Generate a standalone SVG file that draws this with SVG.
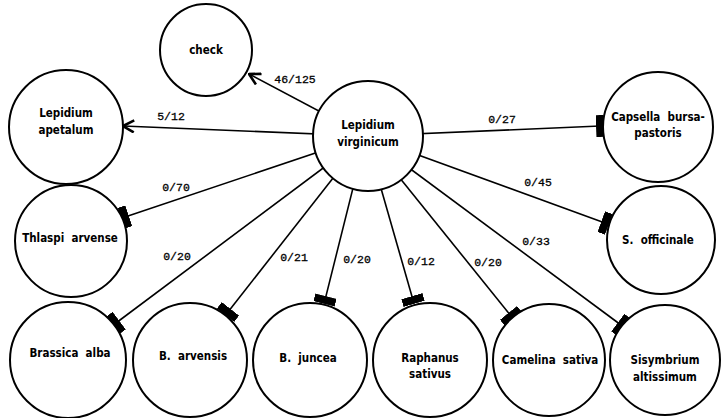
<svg xmlns="http://www.w3.org/2000/svg" width="721" height="418" viewBox="0 0 721 418">
<style>
.node circle{fill:#fff;stroke:#000;stroke-width:2}
.node text{font-family:"DejaVu Sans Condensed","DejaVu Sans",sans-serif;font-weight:bold;font-size:11.5px;fill:#000;text-anchor:middle;white-space:pre}
.edge line{stroke:#000;stroke-width:1.6}
.lbl{font-family:"Liberation Mono",monospace;font-size:11.5px;fill:#000;stroke:#000;stroke-width:0.3;text-anchor:middle}
</style>
<defs>
<marker id="arr" markerUnits="userSpaceOnUse" viewBox="0 0 14 14" refX="13" refY="7" markerWidth="14" markerHeight="14" orient="auto">
<path d="M2,1 L13,7 L2,13" fill="none" stroke="#000" stroke-width="2.6"/>
</marker>
<marker id="bar" markerUnits="userSpaceOnUse" viewBox="0 0 8 22" refX="4" refY="11" markerWidth="8" markerHeight="22" orient="auto">
<rect x="0" y="0" width="8" height="22" fill="#000"/>
</marker>
</defs>
<g id="connectors" class="edge">
<line x1="366" y1="136" x2="249" y2="74" marker-end="url(#arr)"/>
<line x1="366" y1="136" x2="123" y2="126" marker-end="url(#arr)"/>
<line x1="366" y1="136" x2="600" y2="126" marker-end="url(#bar)"/>
<line x1="366" y1="136" x2="125" y2="217" marker-end="url(#bar)"/>
<line x1="366" y1="136" x2="605" y2="223" marker-end="url(#bar)"/>
<line x1="366" y1="136" x2="116" y2="323" marker-end="url(#bar)"/>
<line x1="366" y1="136" x2="228" y2="312" marker-end="url(#bar)"/>
<line x1="366" y1="136" x2="325" y2="300" marker-end="url(#bar)"/>
<line x1="366" y1="136" x2="413" y2="300" marker-end="url(#bar)"/>
<line x1="366" y1="136" x2="511" y2="316" marker-end="url(#bar)"/>
<line x1="366" y1="136" x2="621" y2="325" marker-end="url(#bar)"/>
<text class="lbl" x="295" y="83">46/125</text>
<text class="lbl" x="171" y="120">5/12</text>
<text class="lbl" x="502" y="123">0/27</text>
<text class="lbl" x="176" y="191">0/70</text>
<text class="lbl" x="538" y="186">0/45</text>
<text class="lbl" x="177" y="260">0/20</text>
<text class="lbl" x="294" y="261">0/21</text>
<text class="lbl" x="357" y="263">0/20</text>
<text class="lbl" x="421" y="265">0/12</text>
<text class="lbl" x="488" y="266">0/20</text>
<text class="lbl" x="536" y="245">0/33</text>
</g>
<g id="lepidium-virginicum" class="node"><circle cx="368" cy="136" r="55"/><text x="368" y="129">Lepidium</text><text x="368" y="146">virginicum</text></g>
<g id="check" class="node"><circle cx="206" cy="50" r="46"/><text x="206" y="54">check</text></g>
<g id="lepidium-apetalum" class="node"><circle cx="66" cy="127" r="57"/><text x="66" y="117">Lepidium</text><text x="66" y="134">apetalum</text></g>
<g id="capsella" class="node"><circle cx="658" cy="127" r="55"/><text x="658" y="121">Capsella  bursa-</text><text x="658" y="137">pastoris</text></g>
<g id="thlaspi" class="node"><circle cx="71" cy="241" r="56"/><text x="70" y="242">Thlaspi  arvense</text></g>
<g id="s-officinale" class="node"><circle cx="661" cy="240" r="54"/><text x="658" y="244">S.  officinale</text></g>
<g id="brassica-alba" class="node"><circle cx="68" cy="360" r="58"/><text x="70" y="357">Brassica  alba</text></g>
<g id="b-arvensis" class="node"><circle cx="190" cy="360" r="57"/><text x="193" y="360">B.  arvensis</text></g>
<g id="b-juncea" class="node"><circle cx="310" cy="360" r="57"/><text x="308" y="362">B.  juncea</text></g>
<g id="raphanus" class="node"><circle cx="430" cy="360" r="57"/><text x="430" y="362">Raphanus</text><text x="430" y="378">sativus</text></g>
<g id="camelina" class="node"><circle cx="549" cy="360" r="56"/><text x="550" y="364">Camelina  sativa</text></g>
<g id="sisymbrium" class="node"><circle cx="665" cy="360" r="55"/><text x="665" y="364">Sisymbrium</text><text x="665" y="381">altissimum</text></g>
</svg>
